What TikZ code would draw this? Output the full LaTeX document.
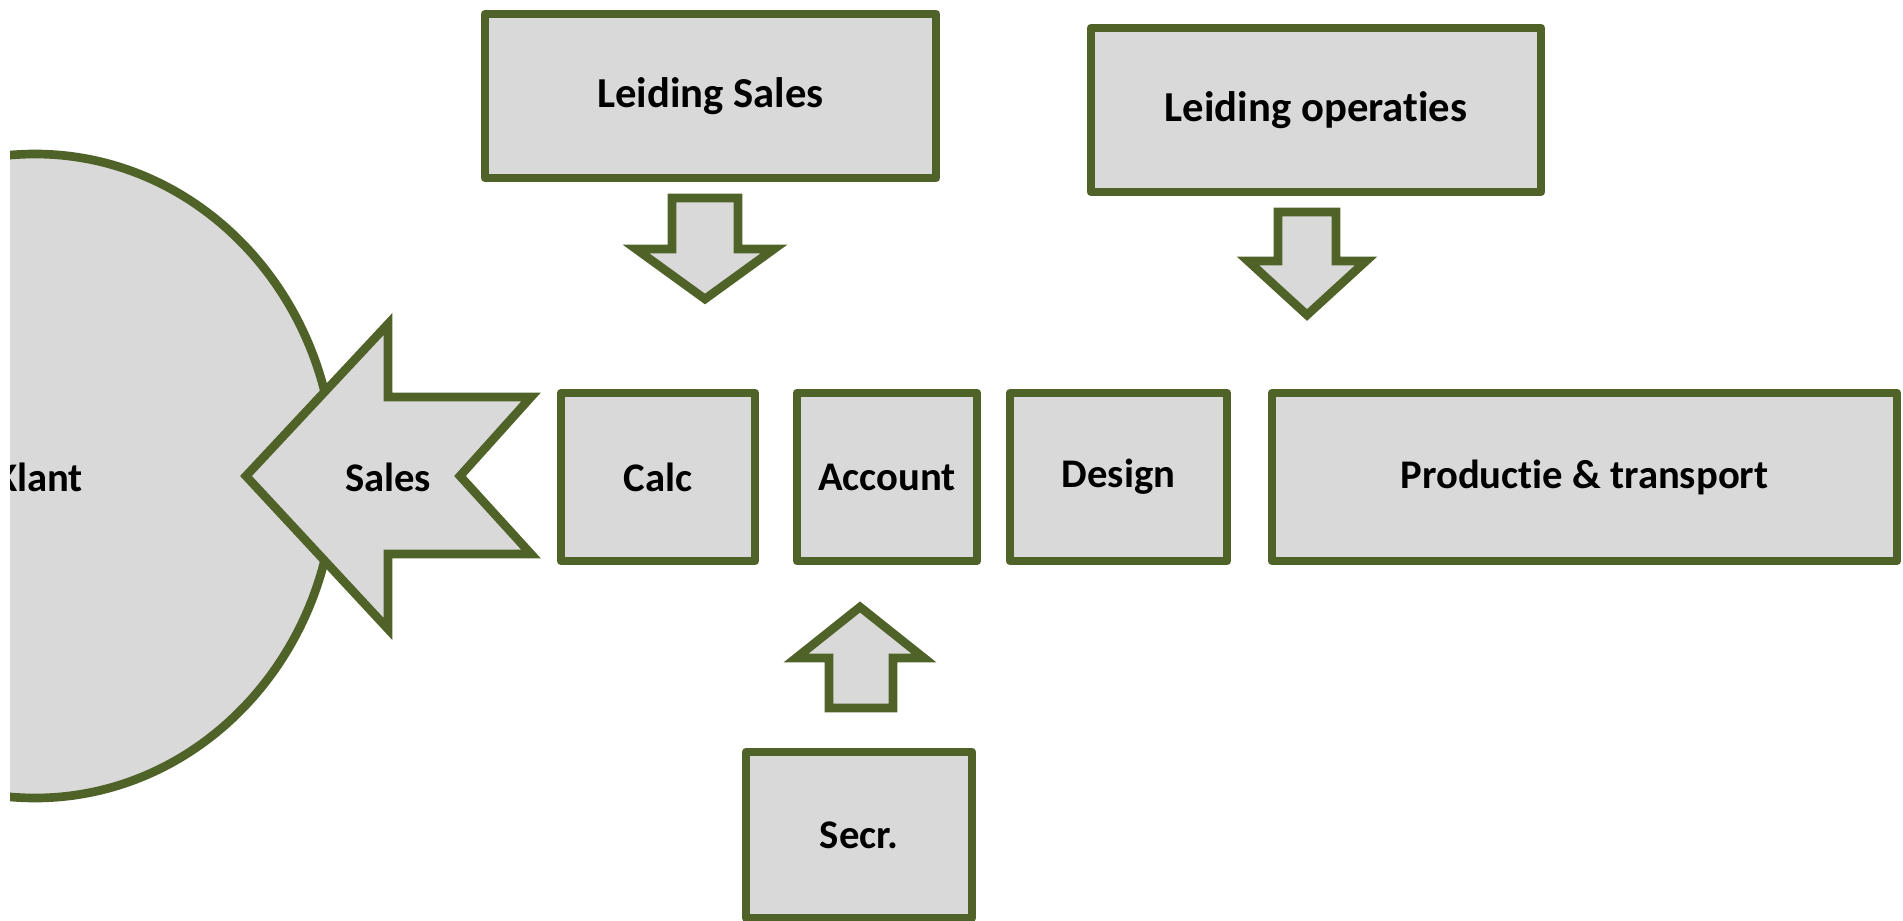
\documentclass[tikz,border=0pt]{standalone}
\usepackage{fontspec}
\setmainfont{Carlito}[Ligatures=NoCommon]
\definecolor{oliveline}{HTML}{4F6228}
\definecolor{boxgray}{HTML}{D9D9D9}
\tikzset{
  box/.style={draw=oliveline, fill=boxgray, line width=6.5pt, line join=round,
    inner sep=0pt, font=\fontsize{30.5}{36}\selectfont\bfseries},
  bigbox/.style={box, font=\fontsize{32}{38}\selectfont\bfseries},
  blockarrow/.style={draw=oliveline, fill=boxgray, line width=6.5pt, line join=miter},
  lbl/.style={font=\fontsize{30.5}{36}\selectfont\bfseries, inner sep=0pt}
}
\begin{document}
\begin{tikzpicture}[x=0.75pt, y=-0.75pt]
  \useasboundingbox (0,0) rectangle (1903,921);

  % klant, cut off at the left edge
  \begin{scope}
    \clip (10,0) rectangle (1903,921);
    \draw[blockarrow] (35,476) ellipse [x radius=300, y radius=322];
    \node[lbl] (klant) at (39,477) {Klant};
  \end{scope}

  % sales arrow
  \draw[blockarrow] (246,476) -- (388,324) -- (388,397) -- (531,397) -- (460,476)
     -- (531,554) -- (388,554) -- (388,629) -- cycle;
  \node[lbl] (sales) at (388,477) {Sales};

  % row of departments
  \node[box, minimum width=145.5pt, minimum height=126pt] (calc) at (658,477) {Calc};
  \node[box, minimum width=135pt, minimum height=126pt] (account) at (887,477) {Account};
  \node[box, minimum width=162.75pt, minimum height=126pt] (design) at (1118.5,477) {Design};
  \node[box, minimum width=468.75pt, minimum height=126pt] (prod) at (1584.5,477) {Productie \& transport};

  % management
  \node[bigbox, minimum width=338.25pt, minimum height=123pt] (lsales) at (710.5,96) {Leiding Sales};
  \node[bigbox, minimum width=337.5pt, minimum height=123pt] (lops) at (1316,110) {Leiding operaties};
  \node[box, minimum width=169.5pt, minimum height=124.5pt] (secr) at (859,835) {Secr.};

  % block arrows
  \draw[blockarrow] (672,198) -- (738,198) -- (738,249) -- (774,249) -- (705,299)
     -- (636,249) -- (672,249) -- cycle;
  \draw[blockarrow] (1278,212) -- (1336,212) -- (1336,261) -- (1366,261) -- (1307,315)
     -- (1248,261) -- (1278,261) -- cycle;
  \draw[blockarrow] (829,708) -- (893,708) -- (893,658) -- (924,658) -- (860,607)
     -- (796,658) -- (829,658) -- cycle;
\end{tikzpicture}
\end{document}
